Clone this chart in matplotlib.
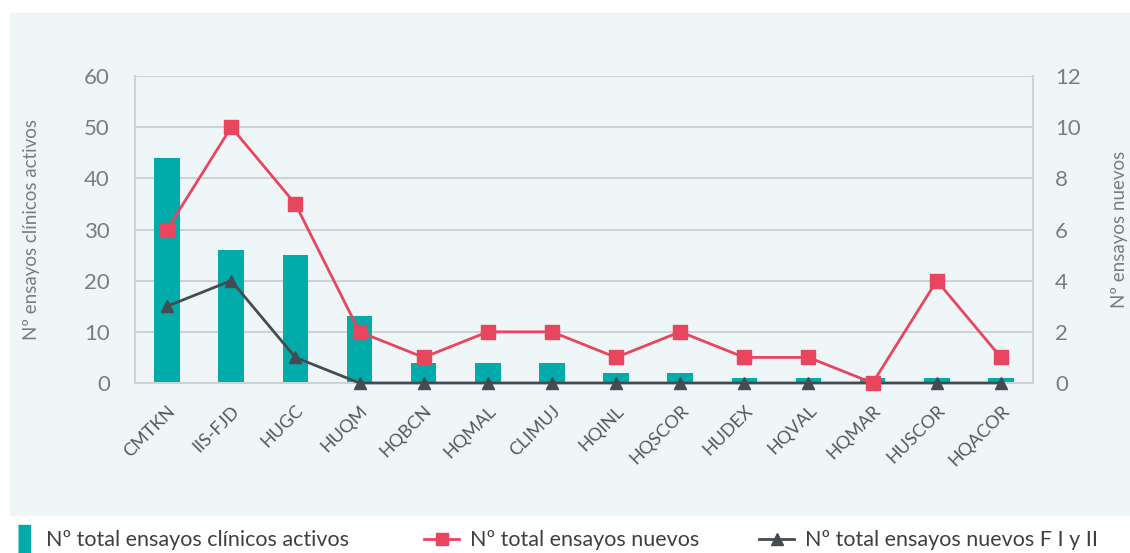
import numpy as np
import matplotlib
matplotlib.use('Agg')
from matplotlib import pyplot as plt
from matplotlib.patches import Rectangle
from matplotlib.lines import Line2D

# Data
centros = ['CMTKN', 'IIS-FJD', 'HUGC', 'HUQM', 'HQBCN', 'HQMAL', 'CLIMUJ',
           'HQINL', 'HQSCOR', 'HUDEX', 'HQVAL', 'HQMAR', 'HUSCOR', 'HQACOR']
activos = [44, 26, 25, 13, 4, 4, 4, 2, 2, 1, 1, 1, 1, 1]
nuevos = [6, 10, 7, 2, 1, 2, 2, 1, 2, 1, 1, 0, 4, 1]
nuevos_f12 = [3, 4, 1, 0, 0, 0, 0, 0, 0, 0, 0, 0, 0, 0]

teal = '#00aba9'
red = '#e8455f'
dark = '#464b52'
grey_txt = '#7a7e82'
grid_c = '#cfd2d4'
bg = '#eef6f8'

plt.rcParams['font.family'] = ['Lato', 'DejaVu Sans']

W, H = 1130, 553
fig = plt.figure(figsize=(W/100, H/100), dpi=100)
fig.patches.append(Rectangle((10/W, 1 - 515/H), 1, (515-13)/H,
                             transform=fig.transFigure, color=bg, zorder=-10))

ax = fig.add_axes([135/W, 1 - 383/H, (1033-135)/W, (383-76)/H])
ax.patch.set_alpha(0)
x = np.arange(len(centros))

ax.bar(x, activos, width=0.4, color=teal, zorder=2)
ax.set_ylim(0, 60)
ax.set_xlim(-0.5, len(centros) - 0.5)
ax.set_yticks(range(0, 61, 10))
ax.yaxis.grid(True, color=grid_c, lw=1.5, zorder=0)
ax.set_axisbelow(True)
ax.tick_params(axis='y', length=0, pad=18, labelsize=16, labelcolor=grey_txt)
ax.tick_params(axis='x', length=0, pad=14)
ax.set_xticks(x)
ax.set_xticklabels(centros, rotation=45, ha='right', rotation_mode='anchor',
                   fontsize=13, color='#55595e')
ax.spines['top'].set_visible(False)
for s in ['left', 'right', 'bottom']:
    ax.spines[s].set_color(grid_c)
    ax.spines[s].set_linewidth(1.5)
ax.set_ylabel('Nº ensayos clínicos activos', fontsize=13.5, color=grey_txt)
ax.yaxis.set_label_coords((40 - 135) / 898, 0.5)

ax2 = ax.twinx()
ax2.set_ylim(0, 12)
ax2.set_yticks(range(0, 13, 2))
ax2.plot(x, nuevos, color=red, lw=2, marker='s', markersize=10, zorder=4, clip_on=False)
ax2.plot(x, nuevos_f12, color=dark, lw=2, marker='^', markersize=9, zorder=3, clip_on=False)
ax2.tick_params(axis='y', length=0, pad=16, labelsize=16, labelcolor=grey_txt)
for s in ['top', 'left', 'right', 'bottom']:
    ax2.spines[s].set_visible(False)
ax2.set_ylabel('Nº ensayos nuevos', fontsize=13.5, color=grey_txt)
ax2.yaxis.set_label_coords((1111 - 135) / 898, 0.5)

# legend items placed one by one
bar_mark = [(-0.45, -1), (0.45, -1), (0.45, 1), (-0.45, 1)]
items = [
    (Line2D([], [], color=teal, marker=bar_mark, linestyle='none', markersize=20),
     'Nº total ensayos clínicos activos', -6 / W, 1.0),
    (Line2D([], [], color=red, marker='s', lw=2, markersize=9),
     'Nº total ensayos nuevos', 405 / W, 1.6),
    (Line2D([], [], color=dark, marker='^', lw=2, markersize=9),
     'Nº total ensayos nuevos F I y II', 740 / W, 1.6),
]
for h, lab, x0, hl in items:
    fig.legend([h], [lab], loc='lower left', bbox_to_anchor=(x0, -0.03),
               frameon=False, fontsize=15.5, labelcolor='#3c4045',
               handlelength=hl, handletextpad=0.5)

plt.savefig('out.png', dpi=100)
